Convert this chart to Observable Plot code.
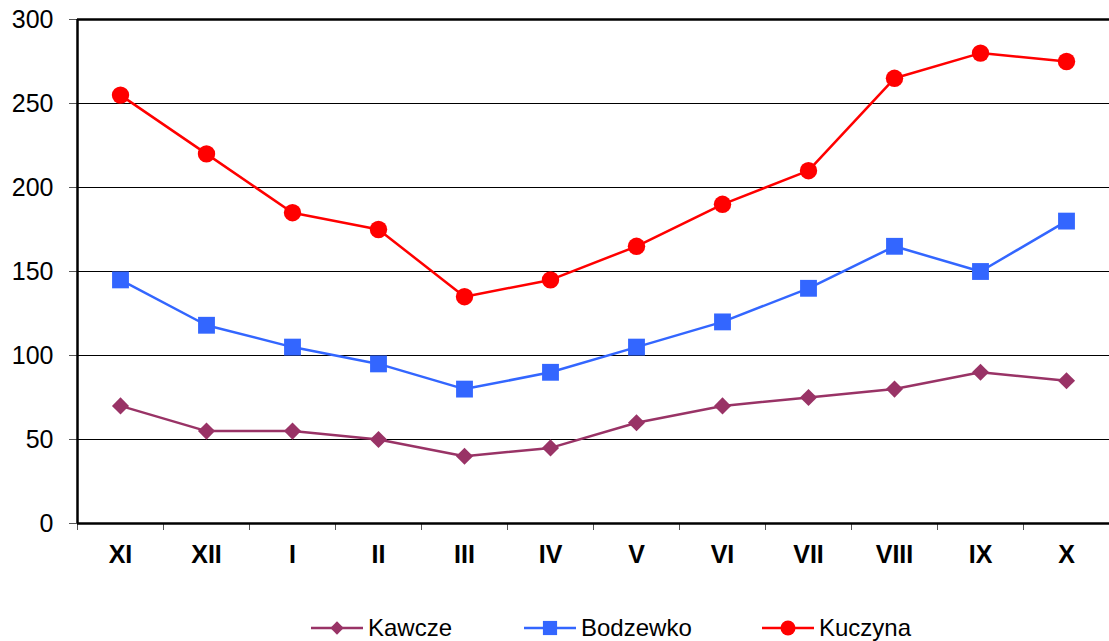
<!DOCTYPE html>
<html><head><meta charset="utf-8">
<script src="https://cdn.jsdelivr.net/npm/d3@7"></script>
<script src="https://cdn.jsdelivr.net/npm/@observablehq/plot@0.6"></script>
<style>
body{margin:0;background:#fff;font-family:"Liberation Sans",Arial,sans-serif}
#legend{position:relative;height:46px;width:1109px}
.item{position:absolute;top:19px;display:flex;align-items:center;font-size:24px;color:#000}
.item svg{display:block;margin-right:5px}
</style>
</head><body><div id="chart"></div><div id="legend"></div>
<script>
const months = ["XI","XII","I","II","III","IV","V","VI","VII","VIII","IX","X"];
const kawcze = [70,55,55,50,40,45,60,70,75,80,90,85];
const bodzewko = [145,118,105,95,80,90,105,120,140,165,150,180];
const kuczyna = [255,220,185,175,135,145,165,190,210,265,280,275];
const seriesNames = ["Kawcze","Bodzewko","Kuczyna"];
const seriesColors = ["#993366","#3366FF","#FF0000"];
const seriesSymbols = ["diamond2","square","circle"];
const yTicks = [0,50,100,150,200,250,300];

const values = [kawcze, bodzewko, kuczyna];
const markerR = [7.7, 9.5, 8.7];
const legendR = [6, 8, 7.5];
const rows = seriesNames.flatMap((name, s) => values[s].map((v, i) => ({name, i, month: months[i], value: v})));

const marks = [
  Plot.ruleY(yTicks.filter(d => d > 0 && d < 300), {stroke: "#000", strokeWidth: 1}),
  Plot.ruleY([300], {stroke: "#000", strokeWidth: 2.5}),
  Plot.axisY({ticks: yTicks, tickSize: 8, tickPadding: 16, fontSize: 25, label: null, stroke: "#555"}),
  Plot.axisX({ticks: d3.range(months.length + 1).map(d => d - 0.5), tickSize: 7, tickFormat: () => "", label: null, stroke: "#555"}),
  Plot.axisX({ticks: d3.range(months.length), tickSize: 0, tickPadding: 22, tickFormat: i => months[i], fontSize: 25, fontWeight: "bold", label: null}),
  Plot.ruleX([-0.5], {stroke: "#000", strokeWidth: 2.5}),
  Plot.ruleY([0], {stroke: "#000", strokeWidth: 2.5}),
  Plot.line(rows, {x: "i", y: "value", z: "name", stroke: "name", strokeWidth: 2.5})
];
seriesNames.forEach((name, s) => {
  marks.push(Plot.dot(rows.filter(d => d.name === name), {x: "i", y: "value", symbol: seriesSymbols[s], fill: seriesColors[s], stroke: "none", r: markerR[s]}));
});

const plot = Plot.plot({
  width: 1109, height: 595,
  marginLeft: 77, marginRight: 0, marginTop: 19, marginBottom: 72,
  style: {fontFamily: "'Liberation Sans', Arial, sans-serif", background: "white", color: "#000"},
  x: {type: "linear", domain: [-0.5, months.length - 0.5]},
  y: {domain: [0, 300]},
  color: {domain: seriesNames, range: seriesColors},
  marks
});
document.getElementById("chart").appendChild(plot);

// legend
const legendX = [311, 524, 762];
const legend = d3.select("#legend");
seriesNames.forEach((name, s) => {
  const item = legend.append("div").attr("class", "item").style("left", legendX[s] + "px");
  const svg = item.append("svg").attr("width", 52).attr("height", 20);
  svg.append("line").attr("x1", 0).attr("x2", 52).attr("y1", 10).attr("y2", 10).attr("stroke", seriesColors[s]).attr("stroke-width", 2.5);
  const sym = {diamond2: d3.symbolDiamond2, square: d3.symbolSquare, circle: d3.symbolCircle}[seriesSymbols[s]];
  svg.append("path").attr("d", d3.symbol(sym, Math.PI * legendR[s] * legendR[s])()).attr("transform", "translate(26,10)").attr("fill", seriesColors[s]);
  item.append("span").text(name);
});
</script>
</body></html>
